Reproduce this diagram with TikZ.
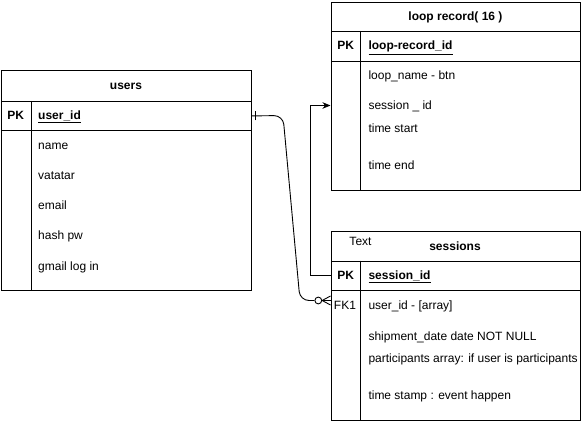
\documentclass[tikz,border=0pt]{standalone}
\usepackage{fontspec}
\setmainfont{Liberation Sans}
\usetikzlibrary{arrows.meta}
\tikzset{
  cell/.style={draw, line width=0.9pt, inner sep=0pt, anchor=north west},
  fld/.style={anchor=west, inner sep=0pt, text height=8.8pt, text depth=0.8pt},
  keyl/.style={inner sep=0pt, text height=8.8pt, text depth=0.8pt, font=\fontsize{12}{14}\selectfont\bfseries},
  ttl/.style={font=\fontsize{12}{14}\selectfont\bfseries},
  conn/.style={line width=0.9pt},
}
\begin{document}
\begin{tikzpicture}[x=1pt,y=-1pt,font=\fontsize{12}{14}\selectfont]
\useasboundingbox (0,0) rectangle (582,422);
\fill[white] (0,0) rectangle (582,422);

% users
\node[cell, ttl, minimum width=250pt, minimum height=31pt] (uHead) at (0.5,70) {users};
\node[cell, minimum width=250pt, minimum height=29pt] (uPK) at (0.5,101) {};
\node[cell, minimum width=250pt, minimum height=160pt] (uBody) at (0.5,130) {};
\draw[line width=0.9pt] (31,101) -- (31,290);
\node[keyl] (uPKl) at (15.7,115.5) {PK};
\node[fld, font=\fontsize{12}{14}\selectfont\bfseries] (uId) at (38,115.5) {\underline{user\_id}};
\node[fld] (uName) at (38,145.5) {name};
\node[fld] (uVat) at (38,176) {vatatar};
\node[fld] (uMail) at (38,206) {email};
\node[fld] (uHash) at (38,236) {hash pw};
\node[fld] (uGmail) at (38,266.5) {gmail log in};

% loop record
\node[cell, ttl, minimum width=249pt, minimum height=29pt] (lHead) at (330.5,2) {loop record( 16 )};
\node[cell, minimum width=249pt, minimum height=30pt] (lPK) at (330.5,31) {};
\node[cell, minimum width=249pt, minimum height=129pt] (lBody) at (330.5,61) {};
\draw[line width=0.9pt] (360.7,31) -- (360.7,190);
\node[keyl] (lPKl) at (345.6,46) {PK};
\node[fld, font=\fontsize{12}{14}\selectfont\bfseries] (lId) at (368.3,46) {\underline{loop-record\_id}};
\node[fld] (lName) at (368.3,75.5) {loop\_name - btn};
\node[fld] (lSid) at (368.3,105.5) {session \_ id};
\node[fld] (lStart) at (368.3,129) {time start};
\node[fld] (lEnd) at (368.3,166) {time end};

% sessions
\node[cell, minimum width=249pt, minimum height=30pt] (sHead) at (330.5,230.7) {};
\node[ttl] (sTitle) at (455,246.5) {sessions};
\node[inner sep=0pt] (sText) at (360.5,241) {Text};
\node[cell, minimum width=249pt, minimum height=29.3pt] (sPK) at (330.5,260.7) {};
\node[cell, minimum width=249pt, minimum height=130pt] (sBody) at (330.5,290) {};
\draw[line width=0.9pt] (360.7,260.7) -- (360.7,420);
\node[keyl] (sPKl) at (345.6,275.5) {PK};
\node[fld, font=\fontsize{12}{14}\selectfont\bfseries] (sId) at (368.3,275.5) {\underline{session\_id}};
\node[inner sep=0pt, text height=8.8pt, text depth=0.8pt] (sFKl) at (345,306) {FK1};
\node[fld] (sUid) at (368.3,306) {user\_id - [array]};
\node[fld] (sShip) at (368.3,337) {shipment\_date date NOT NULL};
\node[fld] (sPart) at (368.3,358.5) {participants array: if user is participants};
\node[fld] (sTime) at (368.3,395.5) {time stamp : event happen};

% connector users -> sessions (one to zero-or-many)
\node[circle, draw, line width=0.9pt, minimum size=6.8pt, inner sep=0pt] (zero) at (318.3,300.5) {};
\coordinate (fkIn) at (330.5,300.5);
\draw[conn, rounded corners=9pt] (uPK.east) -- (283,115.5) -- (300,300.5) -- (zero.west);
\draw[conn] (zero.east) -- (fkIn);
\draw[conn] ([yshift=4.5pt]fkIn) -- (zero.east) -- ([yshift=-4.5pt]fkIn);
\draw[conn] ([xshift=4pt,yshift=-4.5pt]uPK.east) -- ([xshift=4pt,yshift=4.5pt]uPK.east);

% connector sessions -> loop record
\draw[conn, -{Stealth[length=8pt,width=6.5pt,inset=2.5pt]}] (sPK.west) -- ++(-20,0) |- (lBody.west |- lSid.west);
\end{tikzpicture}
\end{document}
